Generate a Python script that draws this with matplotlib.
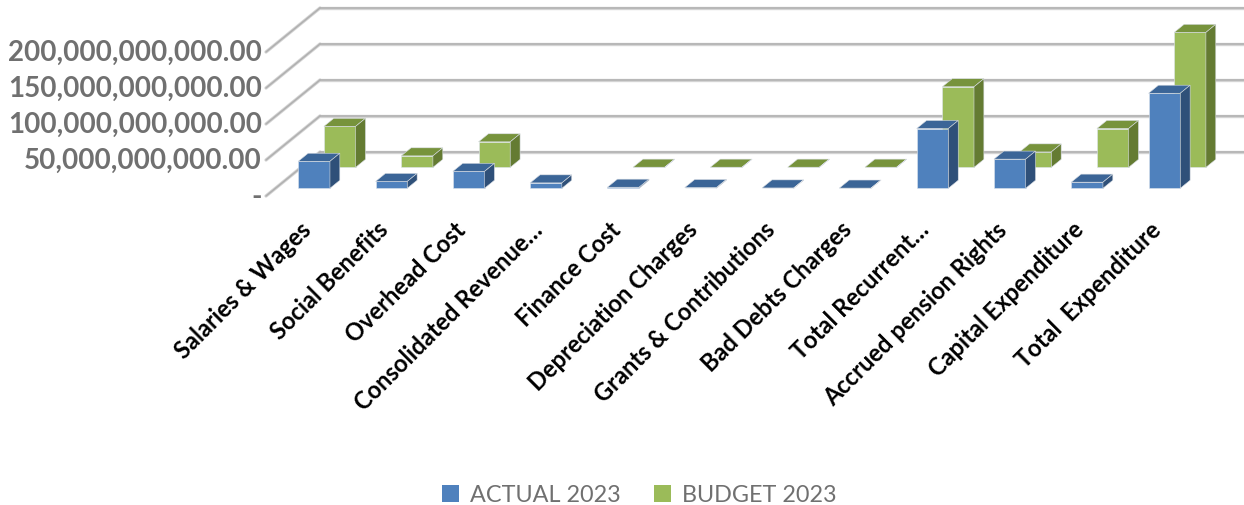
import numpy as np
import matplotlib
matplotlib.use("Agg")
import matplotlib.pyplot as plt
from matplotlib.patches import Polygon, Patch

# ---------------- data ----------------
categories = ["Salaries & Wages", "Social Benefits", "Overhead Cost", "Consolidated Revenue…",
              "Finance Cost", "Depreciation Charges", "Grants & Contributions", "Bad Debts Charges",
              "Total Recurrent…", "Accrued pension Rights", "Capital Expenditure", "Total  Expenditure"]
actual_2023 = [37.5e9, 9.5e9, 23.5e9, 7.5e9, 1.5e9, 1.0e9, 0.5e9, 0.3e9, 83e9, 40.5e9, 8.5e9, 132e9]
budget_2023 = [57e9, 16e9, 35.5e9, np.nan, 0.3e9, 0.3e9, 0.3e9, 0.3e9, 112e9, 21.5e9, 54e9, 187.5e9]
series_names = ["ACTUAL 2023", "BUDGET 2023"]
y_ticks = [0, 50e9, 100e9, 150e9, 200e9]
y_tick_labels = ["-", "50,000,000,000.00", "100,000,000,000.00",
                 "150,000,000,000.00", "200,000,000,000.00"]

# ---------------- geometry / style ----------------
W, H = 1244, 506
PX_X = 77.3          # px per category
PX_Y = 0.72e-9       # px per unit value
X0_PX, Y0_PX = 266, 197
DX = 54 / PX_X       # full depth offset in x (category units)
DY = 44 / PX_Y       # full depth offset in y (value units)
BAR_W = 0.41
rows = {  # depth fraction start, end
    0: (0.175, 0.358),
    1: (0.65, 0.833),
}
faces = {
    0: ("#4F81BD", "#3B6597", "#2F5079"),
    1: ("#9BBB59", "#77933C", "#647B32"),
}

fig = plt.figure(figsize=(W / 100, H / 100), dpi=100)
ax = fig.add_axes([0, 0, 1, 1])
ax.set_xlim(-0.5 - X0_PX / PX_X, -0.5 + (W - X0_PX) / PX_X)
ax.set_ylim((Y0_PX - H) / PX_Y, Y0_PX / PX_Y)
ax.axis("off")

# walls gridlines
xl, xr = -0.5, len(categories) - 0.5
for t in y_ticks:
    for lw, c in ((2.4, "#d4d4d4"), (1.1, "#b0b0b0")):
        ax.plot([xl, xl + DX], [t, t + DY], color=c, lw=lw, solid_capstyle="round", zorder=1)
        ax.plot([xl + DX, xr + DX + 1], [t + DY, t + DY], color=c, lw=lw, solid_capstyle="round", zorder=1)

x = np.arange(len(categories))
for s, vals in ((1, budget_2023), (0, actual_2023)):
    f0, f1 = rows[s]
    front, top, side = faces[s]
    z = 3 - s
    vals = np.asarray(vals, dtype=float)
    ok = ~np.isnan(vals)
    xs = x[ok] + f0 * DX
    ax.bar(xs, vals[ok], width=BAR_W, bottom=f0 * DY, color=front,
           edgecolor="#dfe6ee", linewidth=0.4, zorder=z)
    for xi, v in zip(xs, vals[ok]):
        l, r = xi - BAR_W / 2, xi + BAR_W / 2
        b = f0 * DY
        ddx, ddy = (f1 - f0) * DX, (f1 - f0) * DY
        ax.add_patch(Polygon([(l, b + v), (r, b + v), (r + ddx, b + v + ddy), (l + ddx, b + v + ddy)],
                             closed=True, facecolor=top, edgecolor="#d8dde3", lw=0.4, zorder=z))
        ax.add_patch(Polygon([(r, b), (r, b + v), (r + ddx, b + v + ddy), (r + ddx, b + ddy)],
                             closed=True, facecolor=side, edgecolor="#d8dde3", lw=0.4, zorder=z))

# y tick labels
for t, lab in zip(y_ticks, y_tick_labels):
    ax.text(-0.5 - 4 / PX_X, t, lab, ha="right", va="center", fontsize=20,
            fontweight="bold", color="#707070", family="Lato")

# category labels
ylab = (Y0_PX - 218) / PX_Y
for i, lab in enumerate(categories):
    ax.text(i - 0.07, ylab, lab, rotation=45, ha="right", va="top", rotation_mode="anchor",
            fontsize=17, fontweight="bold", color="black", family="Lato")

handles = [Patch(facecolor=faces[0][0]), Patch(facecolor=faces[1][0])]
fig.legend(handles, series_names, loc="center", bbox_to_anchor=(639 / W, 1 - 496 / H), ncol=2,
           frameon=False, handlelength=0.75, handleheight=0.75, handletextpad=0.45, columnspacing=1.45,
           prop={"family": "Lato", "size": 16.8}, labelcolor="#707070")

fig.savefig("out.png", dpi=100)
